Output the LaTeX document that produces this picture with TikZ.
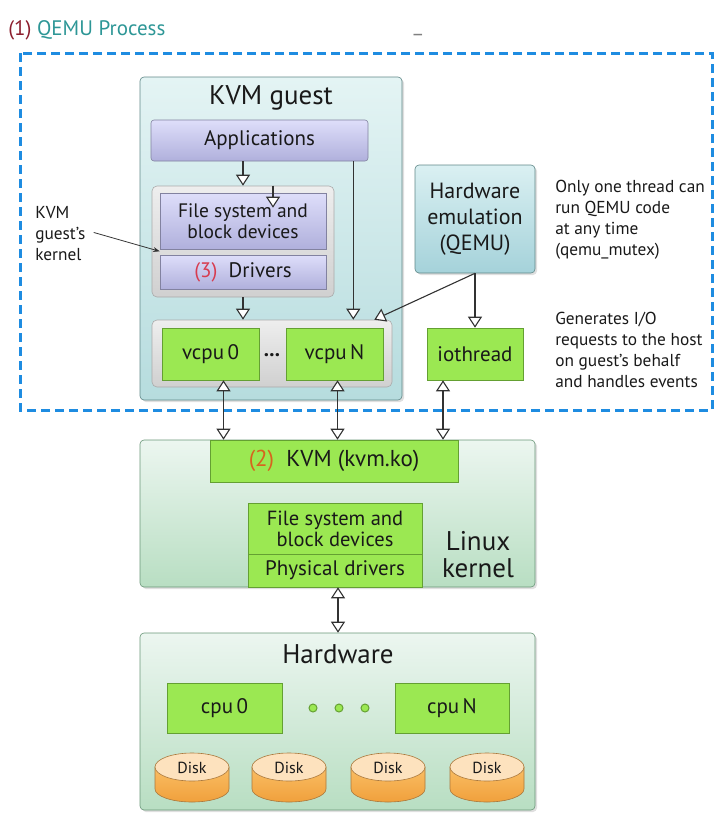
\documentclass[tikz,border=0pt]{standalone}
\usepackage{fontspec}
\setmainfont{PT Sans}
\usetikzlibrary{arrows.meta,shadows}

\definecolor{qblue}{RGB}{30,140,225}
\definecolor{qred}{RGB}{140,30,45}
\definecolor{qteal}{RGB}{45,150,150}
\definecolor{guesttop}{RGB}{228,244,244}
\definecolor{guestbot}{RGB}{182,220,222}
\definecolor{guestline}{RGB}{95,135,135}
\definecolor{lavtop}{RGB}{222,222,250}
\definecolor{lavbot}{RGB}{176,176,220}
\definecolor{lavline}{RGB}{130,130,160}
\definecolor{graytop}{RGB}{238,238,238}
\definecolor{graybot}{RGB}{208,208,208}
\definecolor{grayline}{RGB}{170,170,170}
\definecolor{greenfill}{RGB}{155,232,82}
\definecolor{greenline}{RGB}{100,160,50}
\definecolor{tealtop}{RGB}{218,240,242}
\definecolor{tealbot}{RGB}{165,210,218}
\definecolor{panetop}{RGB}{236,246,240}
\definecolor{panebot}{RGB}{184,222,194}
\definecolor{paneline}{RGB}{105,150,120}
\definecolor{disktop}{RGB}{253,226,190}
\definecolor{diskmid}{RGB}{250,190,100}
\definecolor{diskbot}{RGB}{240,160,60}
\definecolor{diskline}{RGB}{170,120,60}
\definecolor{arrowgray}{RGB}{50,50,50}
\definecolor{nred}{RGB}{215,60,80}
\definecolor{norange}{RGB}{215,100,30}

\begin{document}
\begin{tikzpicture}[x=1pt,y=-1pt,>=Stealth,semithick,
                    font=\fontsize{21}{24}\selectfont,text=black!90]
  \tikzstyle{box}=[rectangle,inner sep=0pt,align=center]
  \tikzstyle{shade box}=[drop shadow={opacity=0.25,shadow xshift=2pt,shadow yshift=-2pt}]
  \tikzstyle{guestbox}=[box,shade box,rounded corners=4pt,draw=guestline,top color=guesttop,bottom color=guestbot]
  \tikzstyle{lavbox}=[box,rounded corners=3pt,draw=lavline,top color=lavtop,bottom color=lavbot]
  \tikzstyle{graybox}=[box,rounded corners=5pt,draw=grayline,top color=graytop,bottom color=graybot]
  \tikzstyle{greenbox}=[box,draw=greenline,fill=greenfill]
  \tikzstyle{tealbox}=[box,shade box,rounded corners=4pt,draw=guestline,top color=tealtop,bottom color=tealbot]
  \tikzstyle{panebox}=[box,shade box,rounded corners=4pt,draw=paneline,top color=panetop,bottom color=panebot]
  \tikzstyle{note}=[align=left,anchor=north west,inner sep=0pt,font=\fontsize{17.3}{21}\selectfont]
  \tikzstyle{tri}=[-{Triangle[length=11pt,width=14pt,fill=white]},line width=1.1pt,draw=arrowgray]
  \tikzstyle{dtri}=[{Triangle[length=11pt,width=14pt,fill=white]}-{Triangle[length=11pt,width=14pt,fill=white]},line width=1.1pt,draw=arrowgray]

  \useasboundingbox (0,0) rectangle (720,825);

  % QEMU process
  \node[anchor=west,inner sep=0pt] (QTITLE) at (8,30) {{\color{qred}(1)} {\color{qteal}QEMU Process}};
  \node[text=black!50] (UNDERSCORE) at (418,34) {\_};
  \draw[qblue,line width=3pt,dash pattern=on 9pt off 5pt] (20,53) rectangle (712,410);

  % KVM guest
  \node[guestbox,minimum width=262,minimum height=323] (GUEST) at (271,238.5) {};
  \node[font=\fontsize{27}{30}\selectfont] (GTITLE) at (271,98) {KVM guest};
  \node[lavbox,minimum width=217,minimum height=41] (APPS) at (259.5,140.5) {Applications};
  \node[graybox,minimum width=182,minimum height=111] (KERN) at (243,241.5) {};
  \node[lavbox,rounded corners=0pt,minimum width=166,minimum height=56,
        font=\fontsize{19.5}{21}\selectfont] (FS) at (243,221) {File system and\\block devices};
  \node[lavbox,rounded corners=0pt,minimum width=166,minimum height=34] (DRV) at (243,272)
       {{\color{nred}(3)}\ \ Drivers};
  \node[graybox,minimum width=240,minimum height=67] (VCPUS) at (272,353.5) {};
  \node[greenbox,minimum width=97,minimum height=52] (VCPU0) at (210.5,354) {vcpu\,0};
  \node[greenbox,minimum width=97,minimum height=52] (VCPUN) at (334.5,354) {vcpu\,N};
  \node[inner sep=0pt] (VDOTS) at (272,355) {\textbf{...}};

  \node[note] (GKERN) at (35,206) {KVM\\guest's\\kernel};

  % QEMU side
  \node[tealbox,minimum width=120,minimum height=108,
        font=\fontsize{22}{26}\selectfont] (HWEMU) at (475,219) {Hardware\\emulation\\(QEMU)};
  \node[greenbox,minimum width=96,minimum height=52] (IOT) at (475,354) {iothread};
  \node[note] (NOTE1) at (555,180) {Only one thread can\\run QEMU code\\at any time\\(qemu\_mutex)};
  \node[note] (NOTE2) at (555,312) {Generates I/O\\requests to the host\\on guest's behalf\\and handles events};

  % Linux kernel
  \node[panebox,minimum width=395,minimum height=147] (LINUX) at (337.5,513.5) {};
  \node[greenbox,minimum width=248,minimum height=42,
        font=\fontsize{23}{26}\selectfont] (KVMKO) at (334,461) {{\color{norange}(2)}\ \ KVM (kvm.ko)};
  \node[greenbox,minimum width=174,minimum height=51,
        font=\fontsize{20.5}{21}\selectfont] (HFS) at (335,528.5) {File system and\\block devices};
  \node[greenbox,minimum width=174,minimum height=33] (PDRV) at (335,570.5) {Physical drivers};
  \node[font=\fontsize{27}{27}\selectfont,align=center] (LTITLE) at (478,555) {Linux\\kernel};

  % Hardware
  \node[panebox,minimum width=395,minimum height=177] (HW) at (337.5,721.5) {};
  \node[font=\fontsize{27}{30}\selectfont] (HTITLE) at (338,654) {Hardware};
  \node[greenbox,minimum width=115,minimum height=50] (CPU0) at (224.5,708) {cpu\,0};
  \node[greenbox,minimum width=114,minimum height=50] (CPUN) at (452,708) {cpu\,N};
  \foreach \i/\x in {1/313,2/339,3/365}
    \node[circle,draw=greenline,fill=greenfill,line width=1pt,inner sep=0pt,
          minimum size=8pt] (HDOT\i) at (\x,708) {};
  \foreach \i/\x in {1/192,2/289,3/388,4/487} {
    \draw[draw=diskline,top color=diskmid,bottom color=diskbot]
      (\x-37,767) -- (\x-37,789) arc[start angle=180,end angle=0,x radius=37,y radius=13]
      -- (\x+37,767) -- cycle;
    \draw[draw=diskline,fill=disktop] (\x,767) ellipse[x radius=37,y radius=14];
    \node[font=\fontsize{16}{18}\selectfont] (DISK\i) at (\x,768) {Disk};
  }

  % connectors
  \draw[tri] (KERN.north |- APPS.south) -- (KERN.north);
  \draw[tri] ([xshift=30pt]KERN.north) -- ([xshift=30pt,yshift=-22pt]KERN.north);
  \draw[tri] (KERN.south) -- (KERN.south |- VCPUS.north);
  \draw[tri] ([xshift=-15pt]APPS.south east) -- ([xshift=-15pt]APPS.south east |- VCPUS.north);
  \draw[tri] (HWEMU.south) -- (IOT.north);
  \draw[tri] (HWEMU.south) -- ([xshift=-18pt]VCPUS.north east);
  \draw[->,line width=0.8pt,draw=arrowgray] ([xshift=8pt,yshift=1pt]GKERN.east) -- ([yshift=-2pt]FS.south west);

  \draw[dtri] ([xshift=13pt]VCPU0.south) -- ([xshift=13pt]VCPU0.south |- KVMKO.north);
  \draw[dtri] ([xshift=3pt]VCPUN.south) -- ([xshift=3pt]VCPUN.south |- KVMKO.north);
  \draw[dtri] ([xshift=-32pt]IOT.south) -- ([xshift=-32pt]IOT.south |- KVMKO.north);
  \draw[dtri] ([xshift=3pt]PDRV.south) -- ([xshift=3pt]PDRV.south |- HW.north);
\end{tikzpicture}
\end{document}
